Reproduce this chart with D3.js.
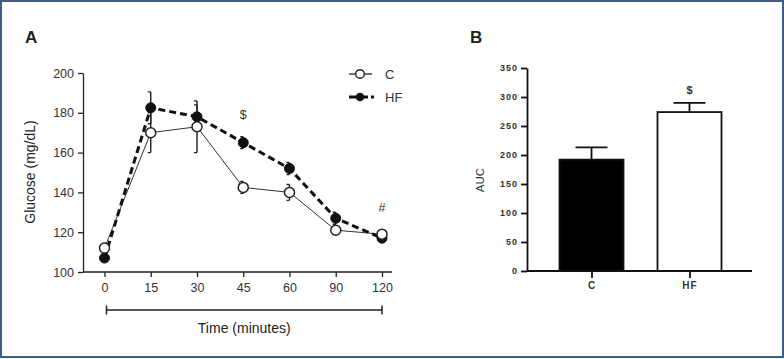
<!DOCTYPE html>
<html><head><meta charset="utf-8">
<script src="https://cdn.jsdelivr.net/npm/d3@7"></script>
<style>body{margin:0;background:#fff}svg{display:block}</style>
</head><body><svg id="c" width="784" height="359"></svg>
<script>
// Panel A data
const times = ["0","15","30","45","60","90","120"];
const cMean = [112,170,173,142.5,140,121,119];
const cErr  = [1.5,10,13,3,4,2,1];
const hfMean = [107,182.5,178,165,152,127,117];
const hfErr  = [1,8,6,3,3,3,1];
const glucoseTicks = [100,120,140,160,180,200];
// Panel B data
const groups = ["C","HF"];
const aucMean = [192,274];
const aucErr = [21,16];
const aucTicks = [0,50,100,150,200,250,300,350];

const svg = d3.select("#c");
const font = "Liberation Sans, Arial, sans-serif";
// frame
svg.append("rect").attr("x",1).attr("y",1).attr("width",782).attr("height",356)
  .attr("fill","none").attr("stroke","#3b5f88").attr("stroke-width",2);

// ---------- Panel A ----------
const x = d3.scalePoint().domain(times).range([104.5,382]);
const y = d3.scaleLinear().domain([100,200]).range([272,73]);
const gA = svg.append("g").attr("font-family",font);
gA.append("text").attr("x",25).attr("y",43).attr("font-size",17).attr("font-weight","bold").attr("fill","#222").text("A");

const yAx = gA.append("g").attr("transform","translate(83,0)")
  .call(d3.axisLeft(y).tickValues(glucoseTicks).tickSize(5).tickSizeOuter(0).tickPadding(4));
yAx.select(".domain").attr("stroke","#222").attr("stroke-width",1.3);
yAx.selectAll(".tick line").attr("stroke","#222").attr("stroke-width",1.3);
yAx.selectAll("text").attr("font-size",12.5).attr("fill","#333").attr("font-family",font);

const xAx = gA.append("g").attr("transform","translate(0,272)")
  .call(d3.axisBottom(x).tickSize(5).tickPadding(6));
xAx.select(".domain").attr("d","M83,0H392").attr("stroke","#222").attr("stroke-width",1.3);
xAx.selectAll(".tick line").attr("stroke","#222").attr("stroke-width",1.3);
xAx.selectAll("text").attr("font-size",12.5).attr("fill","#333").attr("font-family",font);

// time bracket
const bx0 = x("0")+2, bx1 = x("120");
gA.append("path").attr("d",`M${bx0},310H${bx1}M${bx0},305.5V314.5M${bx1},305.5V314.5`)
  .attr("stroke","#222").attr("stroke-width",1.5).attr("fill","none");
gA.append("text").attr("x",(bx0+bx1)/2).attr("y",333).attr("text-anchor","middle")
  .attr("font-size",14).attr("fill","#222").text("Time (minutes)");
gA.append("text").attr("transform","translate(35,172) rotate(-90)").attr("text-anchor","middle")
  .attr("font-size",14).attr("fill","#222").text("Glucose (mg/dL)");

function errBars(mean, err, off){
  mean.forEach((m,i)=>{
    const cx = x(times[i])+off;
    gA.append("path").attr("d",`M${cx},${y(m-err[i])}V${y(m+err[i])}M${cx-3},${y(m-err[i])}H${cx}M${cx-3},${y(m+err[i])}H${cx}`)
      .attr("stroke","#222").attr("stroke-width",1.4).attr("fill","none");
  });
}
errBars(cMean,cErr,0);
errBars(hfMean,hfErr,0);
const line = d3.line().x((d,i)=>x(times[i])).y(d=>y(d));
gA.append("path").datum(cMean).attr("d",line).attr("fill","none").attr("stroke","#333").attr("stroke-width",1);
gA.append("path").datum(hfMean).attr("d",line).attr("fill","none").attr("stroke","#111")
  .attr("stroke-width",3).attr("stroke-dasharray","7,4");
gA.selectAll(".hf").data(hfMean).enter().append("circle").attr("cx",(d,i)=>x(times[i])).attr("cy",d=>y(d))
  .attr("r",5).attr("fill","#111").attr("stroke","#111");
gA.selectAll(".cc").data(cMean).enter().append("circle").attr("cx",(d,i)=>x(times[i])).attr("cy",d=>y(d))
  .attr("r",5).attr("fill","#fff").attr("stroke","#222").attr("stroke-width",1.5);

gA.append("text").attr("x",x("45")).attr("y",y(165+12)).attr("text-anchor","middle")
  .attr("font-size",12.5).attr("fill","#333").text("$");
gA.append("text").attr("x",x("120")).attr("y",y(119+11)).attr("text-anchor","middle")
  .attr("font-size",12.5).attr("fill","#333").text("#");

// legend
const lg = gA.append("g");
lg.append("line").attr("x1",349).attr("x2",372).attr("y1",74).attr("y2",74).attr("stroke","#222").attr("stroke-width",1.3);
lg.append("circle").attr("cx",360).attr("cy",74).attr("r",4.3).attr("fill","#fff").attr("stroke","#222").attr("stroke-width",1.4);
lg.append("text").attr("x",385).attr("y",79).attr("font-size",13).attr("fill","#333").text("C");
lg.append("line").attr("x1",349).attr("x2",368).attr("y1",97).attr("y2",97).attr("stroke","#111").attr("stroke-width",3);
lg.append("line").attr("x1",371).attr("x2",374).attr("y1",97).attr("y2",97).attr("stroke","#111").attr("stroke-width",3);
lg.append("circle").attr("cx",360).attr("cy",97).attr("r",4.3).attr("fill","#111");
lg.append("text").attr("x",385).attr("y",102).attr("font-size",13).attr("fill","#333").text("HF");

// ---------- Panel B ----------
const gB = svg.append("g").attr("font-family",font);
gB.append("text").attr("x",470).attr("y",43).attr("font-size",17).attr("font-weight","bold").attr("fill","#222").text("B");
const xb = d3.scalePoint().domain(groups).range([591.5,689.5]);
const yb = d3.scaleLinear().domain([0,350]).range([271,68]);
const barW = 64;
const ybAx = gB.append("g").attr("transform","translate(527,0)")
  .call(d3.axisLeft(yb).tickValues(aucTicks).tickSize(6).tickSizeOuter(0).tickPadding(3));
ybAx.select(".domain").attr("stroke","#111").attr("stroke-width",1.8);
ybAx.selectAll(".tick line").attr("stroke","#111").attr("stroke-width",1.8);
ybAx.selectAll("text").attr("font-size",9).attr("font-weight","bold").attr("letter-spacing",1)
  .attr("fill","#333").attr("font-family",font);

gB.selectAll(".bar").data(groups).enter().append("rect")
  .attr("x",d=>xb(d)-barW/2).attr("width",barW)
  .attr("y",(d,i)=>yb(aucMean[i])).attr("height",(d,i)=>yb(0)-yb(aucMean[i]))
  .attr("fill",(d,i)=>i===0?"#000":"#fff").attr("stroke","#111").attr("stroke-width",1.8);
groups.forEach((g,i)=>{
  const cx = xb(g), t = yb(aucMean[i]+aucErr[i]);
  gB.append("path").attr("d",`M${cx},${yb(aucMean[i])}V${t}M${cx-16},${t}H${cx+16}`)
    .attr("stroke","#111").attr("stroke-width",1.8).attr("fill","none");
});
const xbAx = gB.append("g").attr("transform","translate(0,271)")
  .call(d3.axisBottom(xb).tickSize(7).tickPadding(4));
xbAx.select(".domain").attr("d","M527,0H752").attr("stroke","#111").attr("stroke-width",1.8);
xbAx.selectAll(".tick line").attr("stroke","#111").attr("stroke-width",1.8);
xbAx.selectAll("text").attr("font-size",10).attr("font-weight","bold").attr("letter-spacing",1)
  .attr("fill","#333").attr("font-family",font);
gB.append("text").attr("x",xb("HF")).attr("y",yb(aucMean[1]+aucErr[1])-9).attr("text-anchor","middle")
  .attr("font-size",11).attr("font-weight","bold").attr("fill","#333").text("$");
gB.append("text").attr("transform","translate(484,180) rotate(-90)").attr("text-anchor","middle")
  .attr("font-size",11.5).attr("fill","#333").text("AUC");
</script></body></html>
